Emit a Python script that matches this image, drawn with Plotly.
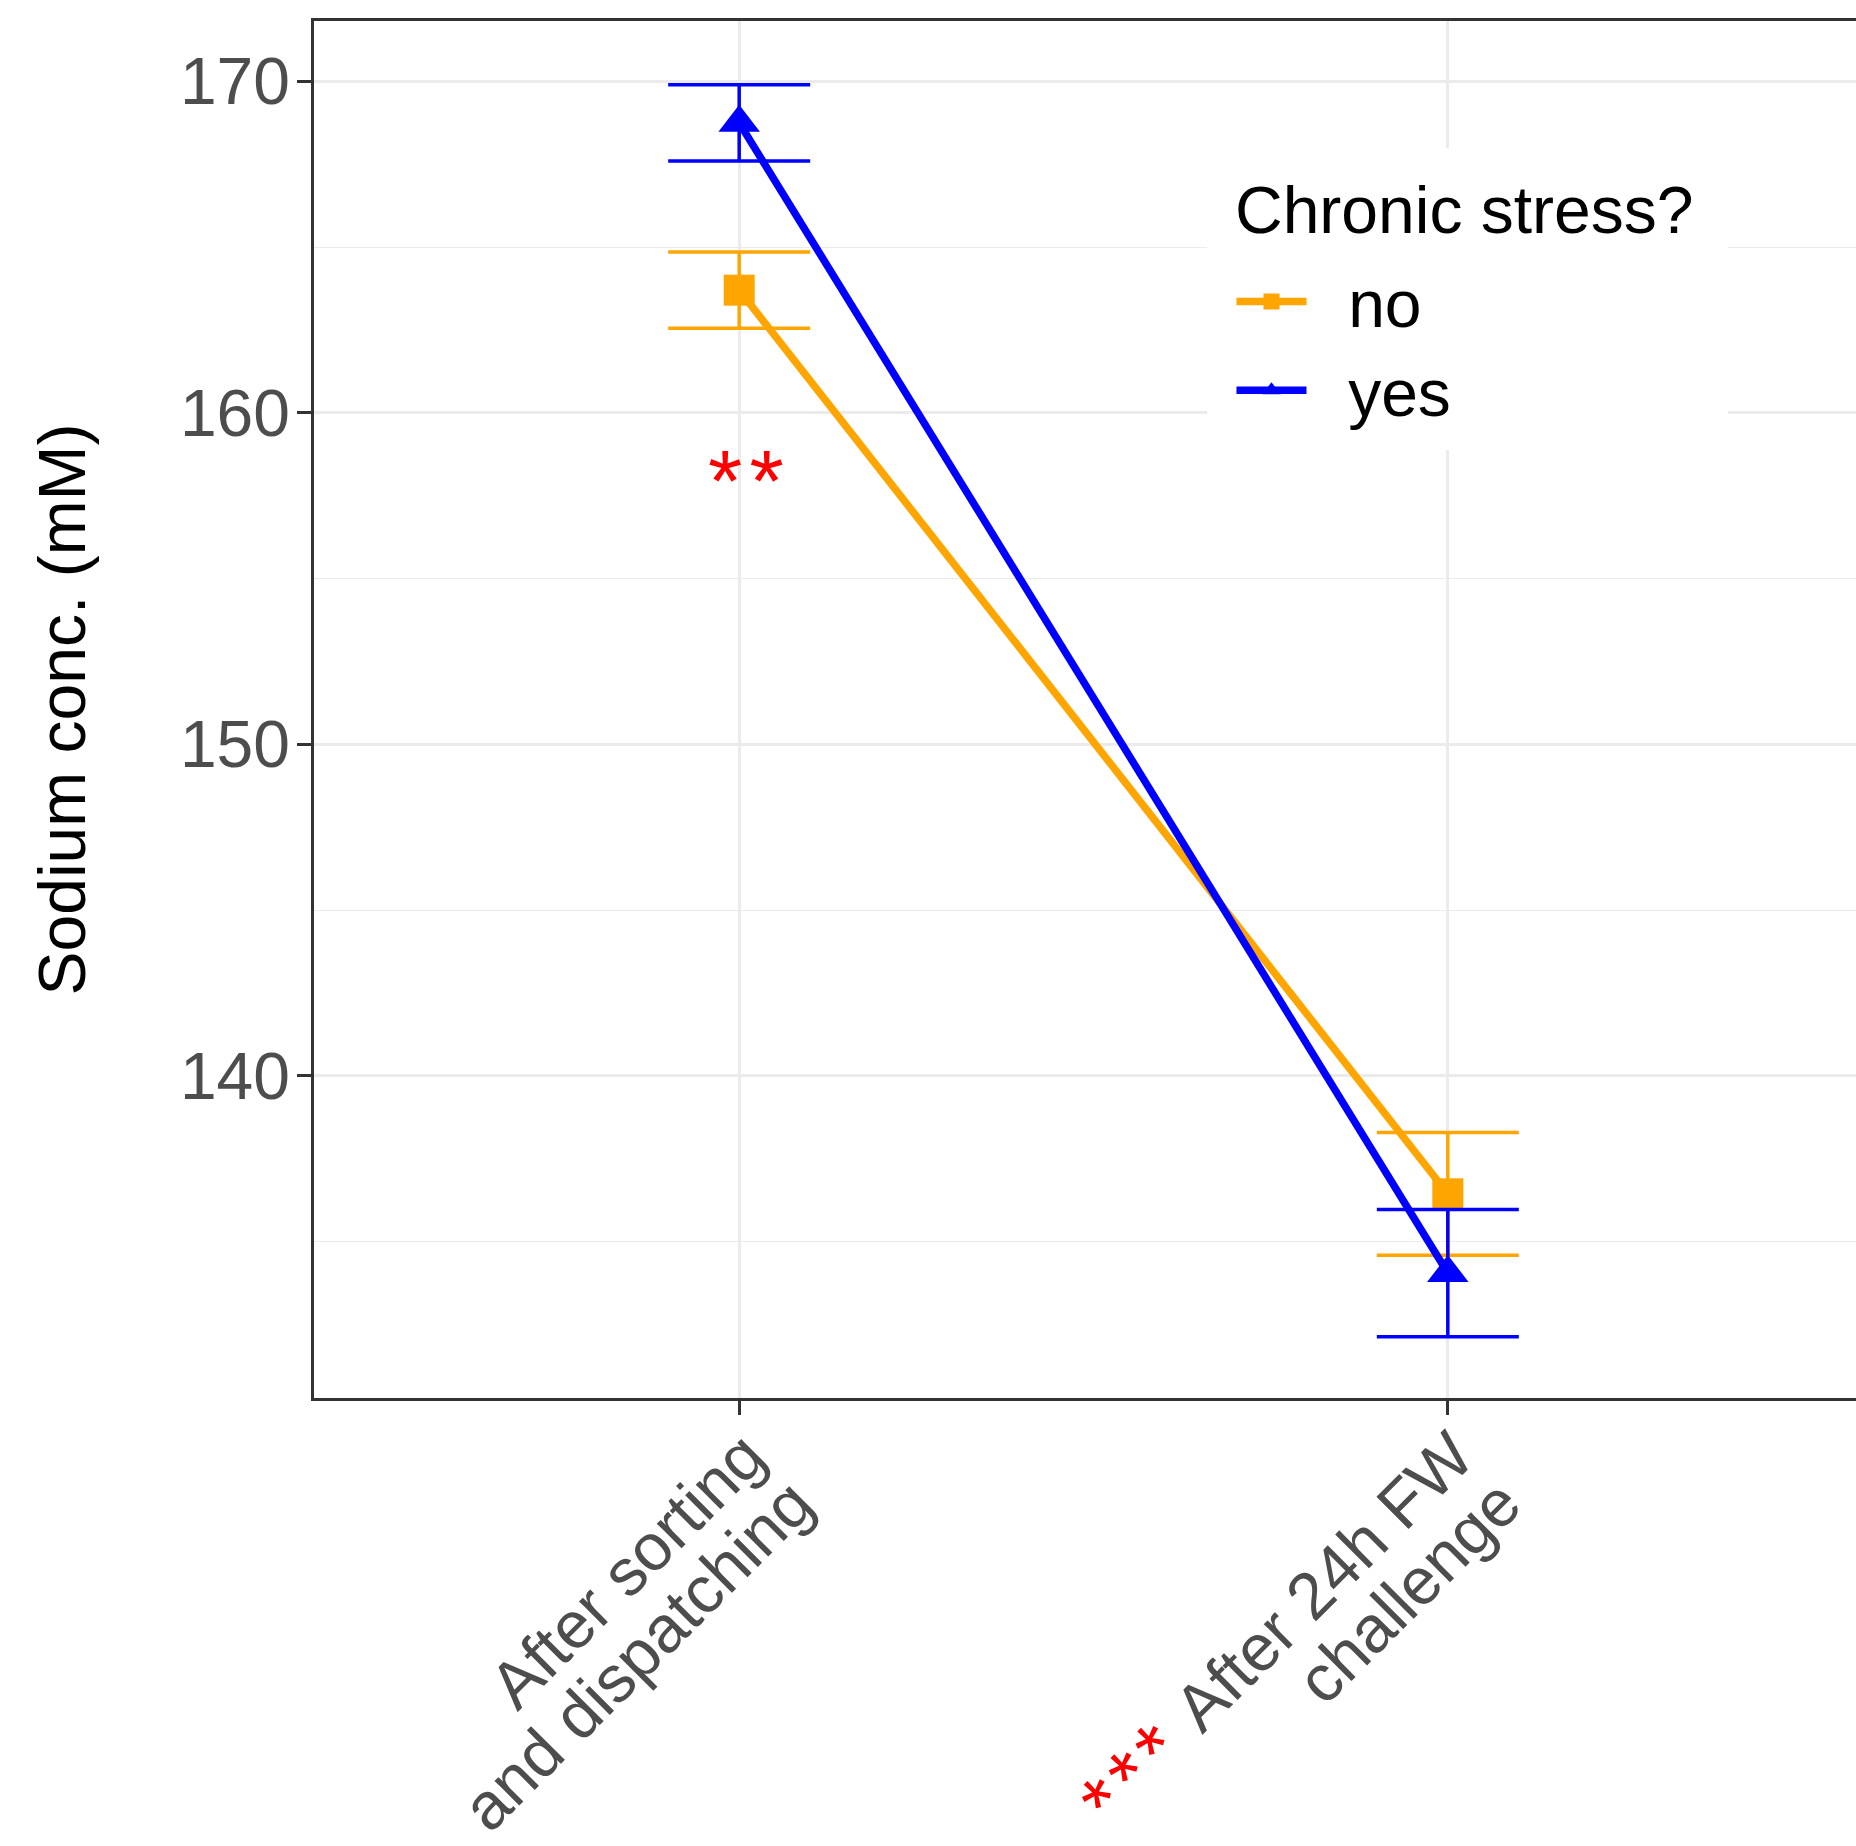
import plotly.graph_objects as go

# ---- data ----
HS = "\u200a"  # hair space between asterisks
x_pos = [1, 2]
tick_line1 = ["After sorting", "After 24h FW"]
tick_line2 = ["and dispatching", "challenge"]
tick_stars = ["", "*" + HS + "*" + HS + "*"]
groups = ["no", "yes"]
means_no = [163.7, 136.44]
err_no = [1.15, 1.85]
means_yes = [168.75, 134.05]
err_yes = [1.15, 1.92]
y_ticks = [140, 150, 160, 170]
y_minor = [135, 145, 155, 165]
signif_label = "*" + HS + "*"
signif_x = 1
signif_y = 158.37
legend_title = "Chronic stress?"

colors = {"no": "#FFA500", "yes": "#0000FF"}
symbols = {"no": "square", "yes": "triangle-up"}
sizes = {"no": 31, "yes": 36}

FONT = "Liberation Sans, Arial, sans-serif"
NBSP = "\u00a0"
TICK_FONT = dict(family=FONT, size=66, color="#4D4D4D")

fig = go.Figure()
for g, m, e in [("no", means_no, err_no), ("yes", means_yes, err_yes)]:
    fig.add_trace(go.Scatter(
        x=x_pos, y=m, name=NBSP * 2 + g, mode="lines+markers",
        line=dict(color=colors[g], width=7.5),
        marker=dict(symbol=symbols[g], size=sizes[g], color=colors[g], line=dict(width=0)),
        error_y=dict(type="data", array=e, visible=True, color=colors[g], thickness=3.5, width=71),
        cliponaxis=False,
    ))

# significance marker
fig.add_annotation(
    x=signif_x, y=signif_y, xref="x", yref="y", text=signif_label,
    showarrow=False, font=dict(family=FONT, size=88, color="#FF0000"),
    yshift=-14, xshift=7,
)

# rotated, right-aligned two-line category labels (offsets in px from tick)
line1_shift = [(-112, -172), (-124, -183)]
line2_shift = [(-102, -257), (-39, -193)]
star_shift = (-316, -377)
for i, xv in enumerate(x_pos):
    fig.add_annotation(x=xv, y=0, xref="x", yref="paper", text=tick_line1[i],
                       textangle=-45, showarrow=False, xanchor="center", yanchor="middle",
                       xshift=line1_shift[i][0], yshift=line1_shift[i][1], font=TICK_FONT)
    fig.add_annotation(x=xv, y=0, xref="x", yref="paper", text=tick_line2[i],
                       textangle=-45, showarrow=False, xanchor="center", yanchor="middle",
                       xshift=line2_shift[i][0], yshift=line2_shift[i][1], font=TICK_FONT)
    if tick_stars[i]:
        fig.add_annotation(x=xv, y=0, xref="x", yref="paper", text=tick_stars[i],
                           textangle=-45, showarrow=False, xanchor="center", yanchor="middle",
                           xshift=star_shift[0], yshift=star_shift[1],
                           font=dict(family=FONT, size=80, color="#FF0000"))

# legend background box and title
fig.add_shape(type="rect", xref="paper", yref="paper",
              x0=0.5791, x1=0.9170, y0=0.6884, y1=0.9078,
              fillcolor="white", line=dict(width=0), layer="above")
fig.add_annotation(
    x=0.596, y=0.8631, xref="paper", yref="paper", text=legend_title,
    showarrow=False, xanchor="left", yanchor="middle",
    font=dict(family=FONT, size=66, color="black"),
)

fig.update_layout(
    width=1856, height=1846,
    margin=dict(l=314, r=0, t=21, b=448),
    plot_bgcolor="white", paper_bgcolor="white",
    font=dict(family=FONT, size=66, color="black"),
    showlegend=True,
    legend=dict(
        font=dict(family=FONT, size=66, color="black"),
        x=0.595, y=0.8322, xanchor="left", yanchor="top",
        bgcolor="white", borderwidth=0, itemwidth=70,
    ),
    xaxis=dict(
        range=[0.4, 2.576], tickmode="array", tickvals=x_pos, showticklabels=False,
        showgrid=True, gridcolor="#EBEBEB", gridwidth=2.6,
        showline=True, linecolor="#333333", linewidth=2.6, mirror=True,
        ticks="outside", ticklen=14, tickwidth=2.6, tickcolor="#333333",
        zeroline=False, automargin=False,
    ),
    yaxis=dict(
        range=[130.28, 171.82], tickmode="array", tickvals=y_ticks,
        showgrid=True, gridcolor="#EBEBEB", gridwidth=2.6,
        minor=dict(tickmode="array", tickvals=y_minor, showgrid=True, gridcolor="#EBEBEB", gridwidth=1.3, ticks=""),
        showline=True, linecolor="#333333", linewidth=2.6,
        ticks="outside", ticklen=14, tickwidth=2.6, tickcolor="#333333",
        tickfont=TICK_FONT, zeroline=False,
        ticklabelstandoff=-6,
        title=dict(text="Sodium conc. (mM)", font=dict(family=FONT, size=66, color="black"), standoff=73),
        automargin=False,
    ),
)

fig.write_html("out.html")
